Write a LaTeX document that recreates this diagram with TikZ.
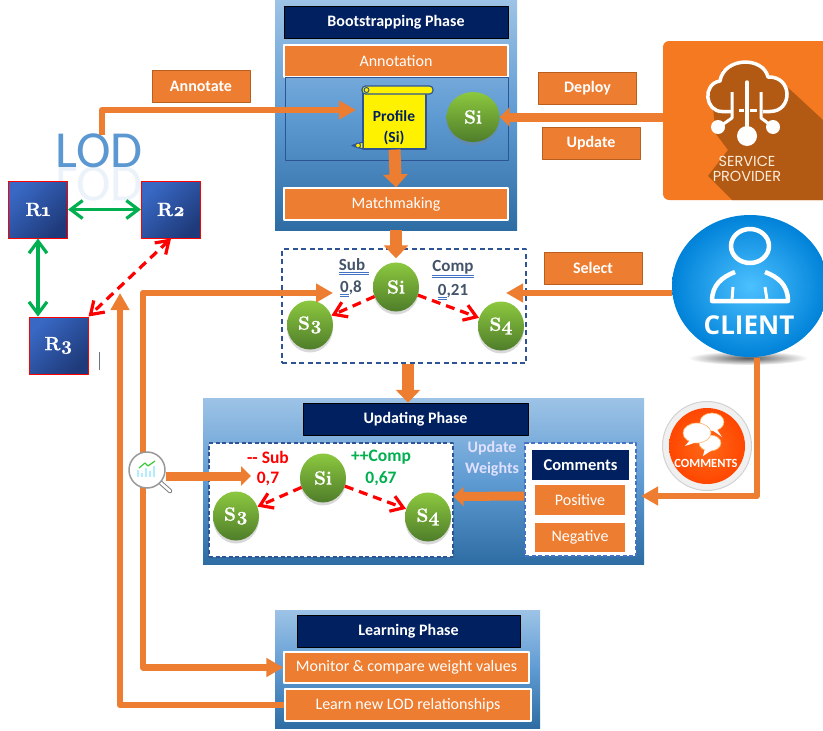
\documentclass[tikz,border=0pt]{standalone}
\usepackage{fontspec}
\usetikzlibrary{arrows.meta,shapes.geometric,shadows}
\newfontfamily\carlito{Carlito}
\newfontfamily\poppins{Poppins}
\newfontfamily\opensans{Open Sans}
\newfontfamily\oldnums[Numbers=OldStyle,BoldFeatures={FakeBold=1.2}]{Latin Modern Roman}
\definecolor{flowor}{HTML}{ED7D31}
\definecolor{tagedge}{HTML}{B85F1E}
\definecolor{navy}{HTML}{002060}
\definecolor{framebl}{HTML}{2F5496}
\definecolor{slate}{HTML}{44546A}
\definecolor{spell}{HTML}{4472C4}
\definecolor{okgreen}{HTML}{00B050}
\definecolor{spor}{HTML}{F47920}
\definecolor{spdark}{HTML}{B25A14}
\definecolor{phasetop}{HTML}{9DC3E6}
\definecolor{phasemid}{HTML}{5F9BD3}
\definecolor{phaselow}{HTML}{2E6CA4}
\definecolor{balltop}{HTML}{8CC83F}
\definecolor{balllow}{HTML}{4F7D2A}
\definecolor{rellight}{HTML}{3868C4}
\definecolor{reldark}{HTML}{1F3A7A}
\definecolor{lodblue}{HTML}{5B97D0}
\newcommand{\dblunder}[1]{\textcolor{spell}{\underline{\underline{\textcolor{slate}{#1}}}}}
\tikzset{
	phasebox/.style={rectangle, inner sep=0pt, top color=phasetop, bottom color=phaselow, middle color=phasemid},
	titlebox/.style={rectangle, fill=navy, draw=black, line width=.5pt, text=white, inner sep=0pt, minimum height=32pt, font=\carlito\bfseries\fontsize{16}{18}\selectfont},
	stepbox/.style={rectangle, fill=flowor, draw=white, line width=1.2pt, text=white, inner sep=0pt, minimum height=32pt, font=\carlito\fontsize{16}{18}\selectfont},
	tagbox/.style={rectangle, fill=flowor, draw=tagedge, line width=1pt, text=white, inner sep=0pt, minimum width=98pt, minimum height=32pt, font=\carlito\bfseries\fontsize{16}{18}\selectfont},
	ball/.style={ellipse, inner sep=0pt, minimum width=46pt, minimum height=49pt, top color=balltop, bottom color=balllow, text=white, font=\oldnums\bfseries\fontsize{19}{21}\selectfont, drop shadow={shadow xshift=0pt, shadow yshift=-3pt, opacity=.3}},
	relbox/.style={rectangle, draw=red, line width=1pt, inner sep=0pt, minimum width=59pt, minimum height=57pt, left color=rellight, right color=reldark, shading angle=45, text=white, font=\oldnums\bfseries\fontsize{19}{21}\selectfont},
	flow/.style={draw=flowor, line width=#1, -{Triangle[length=17pt,width=18pt]}},
	flow/.default=6.5pt,
	stub/.style={draw=flowor, line width=9pt, -{Triangle[length=10pt,width=19pt]}},
	bigflow/.style={draw=flowor, line width=12pt, -{Triangle[length=13pt,width=24pt]}},
	redrel/.style={draw=red, line width=3.2pt, dash pattern=on 9pt off 6pt, -{Straight Barb[length=12pt,width=16pt]}},
	greenrel/.style={draw=okgreen, line width=3.2pt, {Straight Barb[length=12pt,width=18pt]}-{Straight Barb[length=12pt,width=18pt]}},
	weight/.style={inner sep=0pt, font=\carlito\bfseries\fontsize{17.5}{20}\selectfont},
	spelled/.style={inner sep=0pt, text=slate, font=\carlito\bfseries\fontsize{17}{19}\selectfont},
}
\begin{document}
\begin{tikzpicture}[x=1pt, y=-1pt, line join=round]
	\useasboundingbox (0,0) rectangle (823,731);
	% LOD group
	\node (lodmirror) at (99,184) [inner sep=0pt, opacity=.12, text=lodblue, font=\carlito\fontsize{52}{54}\selectfont] {\scalebox{1}[-1]{LOD}};
	\node (lod) at (99,151) [inner sep=0pt, text=lodblue, font=\carlito\fontsize{52}{54}\selectfont] {LOD};
	\node (r1) at (38,209.5) [relbox] {R1};
	\node (r2) at (171,209.5) [relbox] {R2};
	\node (r3) at (58.5,345.5) [relbox] {R3};
	\draw[greenrel] (r1.east) -- (r2.west);
	\draw[greenrel] (r1.south) -- (r1.south |- r3.north);
	\draw[redrel, {Straight Barb[length=12pt,width=16pt]}-{Straight Barb[length=12pt,width=16pt]}] (r2.south) -- (r3.north east);
	\draw[slate!80, line width=.8pt] (99,352)--(99,370);
	
	% Bootstrapping phase
	\node (boots) at (396,115) [phasebox, minimum width=242pt, minimum height=230pt] {};
	\node (bootstitle) at (396,22) [titlebox, minimum width=224pt] {Bootstrapping Phase};
	\node (annotation) at (396,61) [stepbox, minimum width=224pt] {Annotation};
	\node (annotframe) at (396.5,118.5) [rectangle, draw=framebl, line width=1pt, inner sep=0pt, minimum width=223pt, minimum height=83pt] {};
	\node (matching) at (396,204) [stepbox, minimum width=224pt] {Matchmaking};
	% scroll of the profile
	\node (profile) at (394.5,119) [rectangle, draw=framebl, line width=1.2pt, fill=yellow, inner sep=0pt, minimum width=63pt, minimum height=60pt] {};
	\draw[framebl, line width=1.2pt, fill=yellow, rounded corners=3.5pt] (362,86) rectangle (433,94);
	\draw[framebl, line width=1.2pt, fill=yellow] (363,142) -- (352,145.5) -- (363,149) -- cycle;
	\draw[framebl, line width=1pt, fill=yellow] (366.5,90) circle (2.5);
	\draw[framebl, line width=1pt, fill=yellow] (358,145.5) circle (2.5);
	\node (profiletext) at (394,127.5) [inner sep=0pt, align=center, text=navy, font=\carlito\bfseries\fontsize{15.5}{21}\selectfont] {Profile\\(Si)};
	\node (sihead) at (473,117) [ball, minimum width=53pt, minimum height=50pt] {Si};
	\draw[bigflow] (profile.south) -- (matching.north);
	
	% tags on the arrows
	\node (annotate) at (201,86) [tagbox] {Annotate};
	\node (deploy) at (587.5,88) [tagbox] {Deploy};
	\node (update) at (591,143) [tagbox] {Update};
	\node (select) at (593,268) [tagbox] {Select};
	
	% service provider
	\begin{scope}
		\clip (0,0) rectangle (823,731);
		\node (provider) at (749,120.5) [rectangle, rounded corners=6pt, fill=spor, inner sep=0pt, minimum width=172pt, minimum height=159pt] {};
		\fill[spdark] (783,83) -- (823,120) -- (823,200) -- (732,200) -- (708,176) -- (728,150) -- (716,134) -- (712,100) -- (722,70) -- cycle;
		\draw[white, line width=3.5pt, fill=spdark] (731,111.5) -- (722,111.5) .. controls (705,111.5) and (702,84) .. (720,81) .. controls (724,57) and (763,56) .. (768,77) .. controls (793,76) and (793,111.5) .. (770,111.5) -- (763,111.5);
		\draw[white, line width=3.5pt, line cap=round] (747,82) -- (747,132);
		\draw[white, line width=3pt] (732,92) -- (732,118) -- (719,127);
		\draw[white, line width=3pt] (761,92) -- (761,118) -- (773,127);
		\draw[white, line width=3pt] (739,110) -- (744,110);
		\draw[white, line width=3pt] (750,110) -- (757,110);
		\fill[white] (747,136) circle (10);
		\fill[white] (718,127) circle (7);
		\fill[white] (773,127) circle (7);
		\node (service) at (747,161) [inner sep=0pt, text=orange!15!white, font=\poppins\fontsize{14.5}{16}\selectfont] {SERVICE};
		\node (providertext) at (747,176) [inner sep=0pt, text=orange!15!white, font=\poppins\fontsize{14.5}{16}\selectfont] {PROVIDER};
		% client
		\shade[inner color=black!65, outer color=white] (748,358) ellipse (60 and 7);
		\node (client) at (750,286) [ellipse, inner sep=0pt, minimum width=156pt, minimum height=142pt, inner color=cyan!65!blue!70!white, outer color=cyan!60!blue!85!black] {};
		\draw[white, line width=4.5pt] (750,246) ellipse (19 and 17);
		\draw[white, line width=4.5pt] (735,272) .. controls (722,277) and (712,285) .. (712,301) -- (788,301) .. controls (788,285) and (778,277) .. (765,272);
		\draw[white, line width=3pt] (733,287) -- (732,300);
		\draw[white, line width=3pt] (765,287) -- (767,300);
		\node (clienttext) at (749,325) [inner sep=0pt, text=white, font=\opensans\bfseries\fontsize{26}{28}\selectfont] {CLIENT};
	\end{scope}
	
	% matching result
	\node (matchframe) at (404,306) [rectangle, draw=framebl, line width=1.3pt, dash pattern=on 5pt off 3.5pt, inner sep=0pt, minimum width=244pt, minimum height=114pt] {};
	\node (simid) at (396,287) [ball] {Si};
	\node (s3mid) at (310,325) [ball] {S3};
	\node (s4mid) at (501,326) [ball] {S4};
	\node (sublabel) at (354,267) [spelled] {\dblunder{Sub\ }};
	\node (sublabelw) at (351,289) [spelled] {\dblunder{0},8};
	\node (complabel) at (453,269) [spelled] {\dblunder{Comp}};
	\node (complabelw) at (453,292) [spelled] {\dblunder{0},21};
	\draw[redrel] (simid) -- (s3mid);
	\draw[redrel] (simid) -- (s4mid);
	
	% Updating phase
	\node (updating) at (423.5,481) [phasebox, minimum width=441pt, minimum height=166pt] {};
	\node (updatetitle) at (415.5,419) [titlebox, minimum width=225pt] {Updating Phase};
	\node (weightframe) at (331,500) [rectangle, fill=white, draw=framebl, line width=1.1pt, dash pattern=on 4pt off 2.5pt, inner sep=0pt, minimum width=244pt, minimum height=114pt] {};
	\node (siup) at (323,478) [ball] {Si};
	\node (s3up) at (236,516) [ball] {S3};
	\node (s4up) at (428,517) [ball] {S4};
	\node (subup) at (268,457) [weight, text=red] {-- Sub};
	\node (subval) at (268,479) [weight, text=red] {0,7};
	\node (compup) at (381,457) [weight, text=okgreen] {++Comp};
	\node (compval) at (381,479) [weight, text=okgreen] {0,67};
	\draw[redrel] (siup) -- (s3up);
	\draw[redrel] (siup) -- (s4up);
	\node (updweights) at (492,459) [inner sep=0pt, align=center, text=blue!12!white, font=\carlito\bfseries\fontsize{16}{21}\selectfont] {Update\\Weights};
	\node (commentsframe) at (580.5,499.5) [rectangle, fill=white, draw=spell, line width=1.1pt, dash pattern=on 4pt off 2.5pt, inner sep=0pt, minimum width=111pt, minimum height=113pt] {};
	\node (commentstitle) at (580.5,465) [titlebox, draw=none, minimum width=97pt, minimum height=30pt, font=\carlito\bfseries\fontsize{16.5}{18}\selectfont] {Comments};
	\node (positive) at (580,500) [stepbox, draw=none, minimum width=90pt, minimum height=30pt] {Positive};
	\node (negative) at (580,537.5) [stepbox, draw=none, minimum width=90pt, minimum height=29pt] {Negative};
	
	% Learning phase
	\node (learning) at (407.5,669) [phasebox, minimum width=265pt, minimum height=118pt] {};
	\node (learntitle) at (408.5,631) [titlebox, minimum width=223pt] {Learning Phase};
	\node (monitor) at (406.5,667.5) [stepbox, minimum width=245pt, minimum height=31pt] {Monitor \& compare weight values};
	\node (learn) at (408,705) [stepbox, minimum width=246pt] {Learn new LOD relationships};
	
	% free ends of the arrows
	\coordinate (lodout) at (102,135);
	\coordinate (profilein) at (356,110);
	\coordinate (subin) at (333,293);
	\coordinate (selectin) at (506,293);
	\coordinate (rail) at (143,480);
	\coordinate (lodin) at (120,293);
	\coordinate (clientout) at (757,358);
	\coordinate (commentin) at (641,496);
	\coordinate (lensin) at (251,476);
	
	\draw[flow] (lodout) |- (profilein);
	\draw[stub] (provider.west |- sihead.east) -- (sihead.east);
	\draw[bigflow] (boots.south) -- ([yshift=4pt]simid.north);
	\draw[bigflow] ([xshift=4pt]matchframe.south) -- ([xshift=4pt]matchframe.south |- updatetitle.north);
	\draw[flow] (client.west |- selectin) -- (selectin);
	\draw[flow, {Triangle[length=17pt,width=18pt]}-{Triangle[length=17pt,width=18pt]}] (subin) -| (rail) |- (monitor.west);
	\draw[flow] (learn.west) -| (lodin);
	\draw[flow=5.5pt] (clientout) |- (commentin);
	\draw[stub] ([yshift=3.5pt]commentsframe.west) -- ([yshift=3.5pt]weightframe.east);
	
	% lens over the rail
	\draw[gray, line width=4.5pt, line cap=round] (161,483) -- (170,491);
	\draw[white, line width=2.5pt, line cap=round] (161,483) -- (170,491);
	\node (lens) at (147,470) [circle, fill=white, draw=gray!80, line width=1.5pt, inner sep=0pt, minimum size=36pt] {};
	\foreach \barx/\bartop in {138/470,142/473,146/468,150/471,154/466}
		\fill[blue!25!cyan!30!white] (\barx-1.2,\bartop) rectangle (\barx+1.2,477);
	\draw[okgreen!70!lime, line width=1.2pt] (139,468) -- (145,463) -- (148,466) -- (155,461);
	\draw[stub] (lens.east |- lensin) -- (lensin);
	
	% comments badge
	\node (badge) at (707,446) [circle, fill=gray!12, draw=gray!35, line width=1pt, inner sep=0pt, minimum size=89pt] {};
	\node (badgein) at (707,446) [circle, inner color=orange!70!red!90!white, outer color=orange!55!red, inner sep=0pt, minimum size=76pt] {};
	\fill[white, draw=orange!60, line width=.6pt] (712,422) ellipse (12 and 9);
	\fill[white] (716,428) -- (722,437) -- (712,430) -- cycle;
	\fill[white, draw=orange!60, line width=.6pt] (710,443) ellipse (11 and 8);
	\fill[white] (705,448) -- (703,456) -- (712,450) -- cycle;
	\fill[white, draw=orange!60, line width=.6pt] (697,433) ellipse (14 and 10);
	\fill[white] (690,440) -- (685,446) -- (697,442) -- cycle;
	\node (badgetext) at (706,463) [inner sep=0pt, text=white, font=\carlito\bfseries\fontsize{12.5}{14}\selectfont] {COMMENTS};
\end{tikzpicture}
\end{document}
